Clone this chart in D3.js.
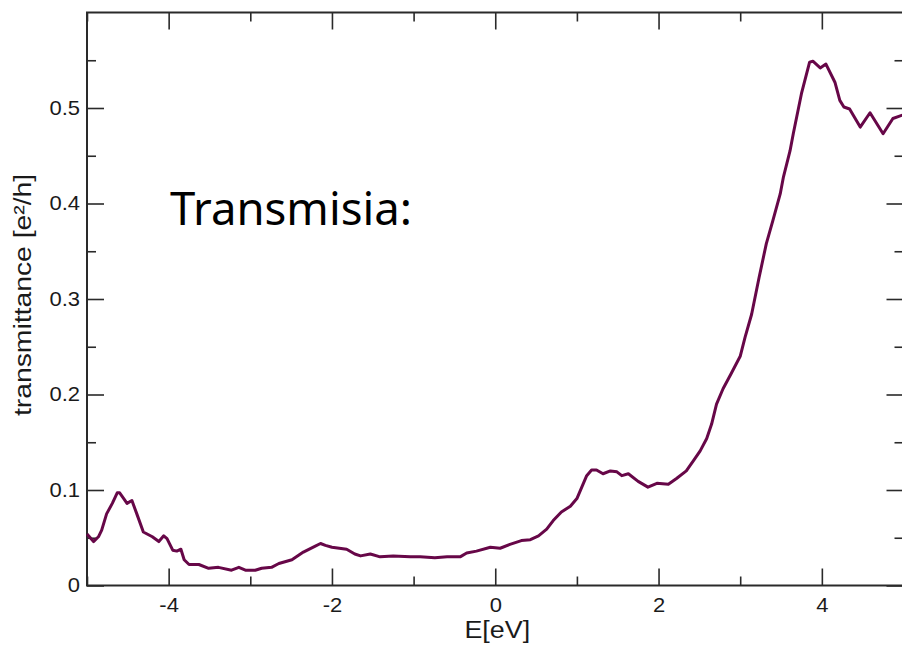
<!DOCTYPE html>
<html>
<head>
<meta charset="utf-8">
<script src="https://cdn.jsdelivr.net/npm/d3@7/dist/d3.min.js"></script>
<style>
  html, body { margin: 0; padding: 0; background: #fff; }
  svg { display: block; }
</style>
</head>
<body>
<svg id="chart" width="902" height="646"></svg>
<script>
// Energy grid (eV) and transmittance (e^2/h)
const energy = [
  -5.00, -4.96, -4.92, -4.86, -4.82, -4.76, -4.69, -4.63, -4.60, -4.55,
  -4.51, -4.45, -4.39, -4.31, -4.20, -4.12, -4.06, -4.02, -3.95, -3.90,
  -3.85, -3.81, -3.75, -3.63, -3.51, -3.39, -3.23, -3.14, -3.06, -2.94,
  -2.86, -2.74, -2.65, -2.49, -2.35, -2.21, -2.14, -2.08, -2.00, -1.82,
  -1.72, -1.65, -1.53, -1.41, -1.25, -1.04, -0.92, -0.74, -0.59, -0.43,
  -0.35, -0.23, -0.06, 0.06, 0.18, 0.32, 0.43, 0.53, 0.63, 0.71,
  0.81, 0.92, 1.00, 1.06, 1.12, 1.18, 1.24, 1.32, 1.41, 1.49,
  1.55, 1.63, 1.75, 1.87, 1.98, 2.12, 2.22, 2.34, 2.43, 2.51,
  2.59, 2.65, 2.71, 2.79, 2.89, 3.00, 3.06, 3.14, 3.23, 3.32,
  3.40, 3.49, 3.53, 3.61, 3.65, 3.75, 3.85, 3.89, 3.98, 4.05,
  4.16, 4.22, 4.27, 4.34, 4.47, 4.59, 4.75, 4.87, 5.00
];
const transmittance = [
  0.054, 0.050, 0.046, 0.051, 0.058, 0.075, 0.086, 0.097, 0.097, 0.091,
  0.086, 0.089, 0.075, 0.056, 0.051, 0.046, 0.052, 0.049, 0.037, 0.036,
  0.038, 0.027, 0.022, 0.022, 0.018, 0.019, 0.016, 0.019, 0.016, 0.016,
  0.018, 0.019, 0.023, 0.027, 0.035, 0.041, 0.044, 0.042, 0.040, 0.038,
  0.033, 0.031, 0.033, 0.030, 0.031, 0.030, 0.030, 0.029, 0.030, 0.030,
  0.034, 0.036, 0.040, 0.039, 0.043, 0.047, 0.048, 0.052, 0.059, 0.068,
  0.077, 0.083, 0.091, 0.103, 0.115, 0.121, 0.121, 0.117, 0.120, 0.119,
  0.115, 0.117, 0.109, 0.103, 0.107, 0.106, 0.112, 0.120, 0.131, 0.141,
  0.154, 0.169, 0.190, 0.206, 0.222, 0.240, 0.260, 0.284, 0.322, 0.358,
  0.382, 0.410, 0.428, 0.455, 0.473, 0.515, 0.548, 0.549, 0.542, 0.546,
  0.527, 0.508, 0.501, 0.499, 0.480, 0.495, 0.473, 0.489, 0.493
];

// Axis ticks
const xMajorTicks = [-4, -2, 0, 2, 4];
const xMinorTicks = [-5, -3, -1, 1, 3, 5];
const yMajorTicks = [0, 0.1, 0.2, 0.3, 0.4, 0.5];
const yMinorTicks = [0.05, 0.15, 0.25, 0.35, 0.45, 0.55];

const xLabel = "E[eV]";
const yLabel = "transmittance [e\u00B2/h]";
const note = "Transmisia:";

const svg = d3.select("#chart");
const frameColor = "#2a2a2a";
const lineColor = "#670748";
const majorLen = 17, minorLen = 9;
const stretch = 1.1;

const x = d3.scaleLinear().domain([-5, 5]).range([87, 903.5]);
const y = d3.scaleLinear().domain([0, 0.6]).range([585.5, 12.5]);

// plain hyphen for negative numbers
const xFmt = d => String(d);
const yFmt = d => d === 0 ? "0" : d.toFixed(1);

function styleAxis(g) {
  g.select(".domain").remove();
  g.selectAll(".tick line").attr("stroke", frameColor).attr("stroke-width", 1.6);
  g.selectAll(".tick text")
    .attr("fill", "#1a1a1a")
    .attr("font-family", "'Liberation Sans', Arial, sans-serif")
    .attr("font-size", 20);
}

// Bottom axis: labelled majors and minors
const xb = svg.append("g").attr("transform", `translate(0,${y.range()[0]})`)
  .call(d3.axisBottom(x).tickValues(xMajorTicks).tickSize(-majorLen).tickPadding(12).tickFormat(xFmt))
  .call(styleAxis);
xb.selectAll(".tick text").attr("transform", `scale(${stretch},1)`);
svg.append("g").attr("transform", `translate(0,${y.range()[0]})`)
  .call(d3.axisBottom(x).tickValues(xMinorTicks).tickSize(-minorLen).tickFormat(""))
  .call(styleAxis);

// Top axis: ticks only
svg.append("g").attr("transform", `translate(0,${y.range()[1]})`)
  .call(d3.axisTop(x).tickValues(xMajorTicks).tickSize(-majorLen).tickFormat(""))
  .call(styleAxis);
svg.append("g").attr("transform", `translate(0,${y.range()[1]})`)
  .call(d3.axisTop(x).tickValues(xMinorTicks).tickSize(-minorLen).tickFormat(""))
  .call(styleAxis);

// Left axis: labelled majors and minors
const yl = svg.append("g").attr("transform", `translate(${x.range()[0]},0)`)
  .call(d3.axisLeft(y).tickValues(yMajorTicks).tickSize(-majorLen).tickPadding(0).tickFormat(yFmt))
  .call(styleAxis);
yl.selectAll(".tick text")
  .attr("x", -7 / stretch)
  .attr("transform", `scale(${stretch},1)`);
svg.append("g").attr("transform", `translate(${x.range()[0]},0)`)
  .call(d3.axisLeft(y).tickValues(yMinorTicks).tickSize(-minorLen).tickFormat(""))
  .call(styleAxis);

// Right axis: ticks only
svg.append("g").attr("transform", `translate(${x.range()[1]},0)`)
  .call(d3.axisRight(y).tickValues(yMajorTicks).tickSize(-majorLen).tickFormat(""))
  .call(styleAxis);
svg.append("g").attr("transform", `translate(${x.range()[1]},0)`)
  .call(d3.axisRight(y).tickValues(yMinorTicks).tickSize(-minorLen).tickFormat(""))
  .call(styleAxis);

// Frame
svg.append("rect")
  .attr("x", x.range()[0]).attr("y", y.range()[1])
  .attr("width", x.range()[1] - x.range()[0])
  .attr("height", y.range()[0] - y.range()[1])
  .attr("fill", "none").attr("stroke", frameColor).attr("stroke-width", 2);

// Transmission curve
const pts = energy.map((e, i) => [e, transmittance[i]]);
svg.append("path")
  .datum(pts)
  .attr("fill", "none")
  .attr("stroke", lineColor)
  .attr("stroke-width", 3)
  .attr("stroke-linejoin", "round")
  .attr("d", d3.line().x(d => x(d[0])).y(d => y(d[1])));

// Axis titles
svg.append("text")
  .attr("transform", `translate(${(x.range()[0] + x.range()[1]) / 2 + 2},638) scale(1.12,1)`)
  .attr("text-anchor", "middle")
  .attr("font-family", "'Liberation Sans', Arial, sans-serif")
  .attr("font-size", 24)
  .attr("fill", "#1a1a1a")
  .text(xLabel);

svg.append("text")
  .attr("transform", `translate(31,295) rotate(-90) scale(1.18,1)`)
  .attr("text-anchor", "middle")
  .attr("font-family", "'Liberation Sans', Arial, sans-serif")
  .attr("font-size", 24)
  .attr("fill", "#1a1a1a")
  .text(yLabel);

// Annotation inside the plot
svg.append("text")
  .attr("x", 170).attr("y", 225)
  .attr("font-family", "'Noto Sans', sans-serif")
  .attr("font-size", 45.5)
  .attr("fill", "#000")
  .text(note);
</script>
</body>
</html>
